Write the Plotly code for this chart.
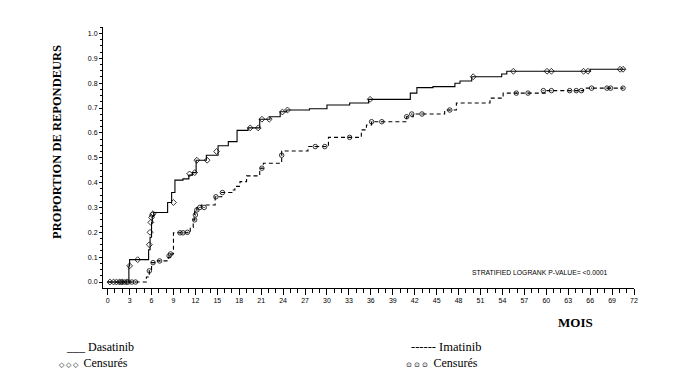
import plotly.graph_objects as go

# Step curves (months, proportion of responders)
dasa_t = [0, 2.9, 3.0, 5.6, 5.8, 6.0, 6.1, 6.3, 8.2, 8.75, 9.2, 10.3, 11.1, 11.6, 12.1, 13.5, 15.1, 16.5,
          17.7, 19.2, 20.8, 22.2, 23.6, 24.5, 27.6, 30.0, 33.1, 35.7, 41.4, 42.3, 44.5, 47.5, 48.2, 49.8,
          53.9, 54.6, 66.0, 70.8]
dasa_p = [0.0, 0.065, 0.09, 0.13, 0.18, 0.24, 0.265, 0.28, 0.32, 0.36, 0.41, 0.415, 0.43, 0.44, 0.49, 0.51,
          0.548, 0.565, 0.61, 0.62, 0.655, 0.665, 0.685, 0.692, 0.697, 0.712, 0.72, 0.735, 0.76, 0.782,
          0.786, 0.80, 0.809, 0.826, 0.837, 0.848, 0.856, 0.856]

ima_t = [0, 5.3, 5.7, 6.0, 6.8, 8.3, 8.7, 9.0, 11.3, 11.7, 11.9, 12.2, 12.8, 14.7, 15.6, 17.0, 17.4, 18.1,
         19.0, 20.8, 21.3, 23.8, 27.4, 30.2, 34.7, 35.4, 36.1, 40.9, 41.8, 46.1, 47.7, 52.3, 54.1, 60.1,
         65.1, 70.5]
ima_p = [0.0, 0.02, 0.048, 0.078, 0.085, 0.10, 0.113, 0.198, 0.22, 0.25, 0.29, 0.30, 0.31, 0.343, 0.36,
         0.37, 0.385, 0.404, 0.427, 0.458, 0.478, 0.527, 0.545, 0.582, 0.612, 0.632, 0.645, 0.665, 0.676,
         0.692, 0.72, 0.74, 0.76, 0.77, 0.78, 0.78]

# Censored observations
dasa_cens_t = [0.3, 0.8, 1.2, 1.6, 2.0, 2.6, 3.0, 4.1, 5.7, 5.8, 5.9, 6.0, 6.1, 6.2, 9.0, 11.2, 11.9, 12.2,
               13.6, 14.9, 19.5, 20.6, 21.1, 22.1, 23.9, 24.6, 35.9, 50.0, 55.5, 60.1, 60.7, 65.1, 65.7,
               70.1, 70.5]
dasa_cens_p = [0.0, 0.0, 0.0, 0.0, 0.0, 0.0, 0.065, 0.09, 0.15, 0.2, 0.24, 0.26, 0.27, 0.275, 0.32, 0.435,
               0.44, 0.49, 0.49, 0.525, 0.62, 0.62, 0.655, 0.655, 0.684, 0.692, 0.735, 0.826, 0.848, 0.848,
               0.848, 0.848, 0.848, 0.856, 0.856]

ima_cens_t = [1.8, 2.3, 2.8, 3.3, 3.8, 5.7, 6.2, 7.1, 8.4, 8.6, 9.9, 10.3, 10.9, 11.9, 12.0, 12.2, 12.6,
              13.2, 14.8, 15.7, 21.1, 23.8, 28.4, 29.7, 33.1, 36.1, 37.5, 40.9, 41.6, 43.0, 46.8, 55.9,
              57.5, 59.6, 60.7, 63.2, 64.1, 64.8, 66.2, 68.3, 68.8, 70.5]
ima_cens_p = [0.0, 0.0, 0.0, 0.0, 0.0, 0.045, 0.078, 0.085, 0.105, 0.113, 0.198, 0.198, 0.2, 0.25, 0.27,
              0.29, 0.30, 0.30, 0.343, 0.36, 0.458, 0.51, 0.545, 0.545, 0.582, 0.645, 0.645, 0.665, 0.676,
              0.676, 0.692, 0.76, 0.76, 0.77, 0.77, 0.77, 0.77, 0.77, 0.78, 0.78, 0.78, 0.78]

x_ticks = list(range(0, 73, 3))
y_ticks = [i / 10 for i in range(11)]
y_tick_labels = [f"{v:.1f}" for v in y_ticks]

fig = go.Figure()
fig.add_trace(go.Scatter(x=dasa_t, y=dasa_p, mode="lines", line_shape="hv",
                         line=dict(color="black", width=1.1), name="Dasatinib"))
fig.add_trace(go.Scatter(x=ima_t, y=ima_p, mode="lines", line_shape="hv",
                         line=dict(color="black", width=1.1, dash="4px,3px"), name="Imatinib"))
fig.add_trace(go.Scatter(x=dasa_cens_t, y=dasa_cens_p, mode="markers",
                         marker=dict(symbol="diamond-open", size=4.5, color="black", line=dict(width=0.8)),
                         name="Censurés"))
fig.add_trace(go.Scatter(x=ima_cens_t, y=ima_cens_p, mode="markers",
                         marker=dict(symbol="circle-open-dot", size=4.5, color="black", line=dict(width=0.8)),
                         name="Censurés"))

tickfont = dict(family="Liberation Sans, Arial, sans-serif", size=7, color="black")
# page offset of 8px (body margin) is compensated in the margins
fig.update_layout(
    width=675, height=378,
    margin=dict(l=95, r=49, t=19, b=98),
    paper_bgcolor="white", plot_bgcolor="white",
    showlegend=False,
    xaxis=dict(range=[-0.64, 72], tickmode="array", tickvals=x_ticks, ticktext=[str(v) for v in x_ticks],
               showgrid=False, zeroline=False, showline=True, linecolor="black", linewidth=1,
               ticks="outside", ticklen=6, tickwidth=1, tickcolor="black", tickfont=tickfont,
               minor=dict(dtick=1, ticks="outside", ticklen=4, tickcolor="black", tickwidth=1)),
    yaxis=dict(range=[-0.024, 1.026], tickmode="array", tickvals=y_ticks, ticktext=y_tick_labels,
               showgrid=False, zeroline=False, showline=True, linecolor="black", linewidth=1,
               ticks="outside", ticklen=3, tickwidth=1, tickcolor="black", tickfont=tickfont,
               minor=dict(dtick=0.025, ticks="outside", ticklen=2, tickcolor="black", tickwidth=1)),
)

serif = "Liberation Serif, Times New Roman, serif"
ann = [
    dict(x=57, y=142, text="<b>PROPORTION DE REPONDEURS</b>", textangle=-90,
         font=dict(family=serif, size=12.5, color="black")),
    dict(x=575, y=322, text="<b>MOIS</b>", font=dict(family=serif, size=13, color="black")),
    dict(x=540, y=272, text="STRATIFIED LOGRANK P-VALUE= <0.0001",
         font=dict(family="Liberation Sans, Arial, sans-serif", size=6.8, color="black")),
    dict(x=64, y=347, xanchor="left", text="___ Dasatinib", font=dict(family=serif, size=12, color="black")),
    dict(x=57, y=363, xanchor="left",
         text="<span style='font-size:7px'>◇&nbsp;◇&nbsp;◇</span>&nbsp;&nbsp;Censurés",
         font=dict(family=serif, size=12, color="black")),
    dict(x=409, y=347, xanchor="left", text="------ Imatinib", font=dict(family=serif, size=12.5, color="black")),
    dict(x=404, y=363, xanchor="left",
         text="<span style='font-size:7px'>⊙&nbsp;⊙&nbsp;⊙</span>&nbsp;&nbsp;Censurés",
         font=dict(family=serif, size=12, color="black")),
]
for a in ann:
    fig.add_annotation(xref="paper", yref="paper", showarrow=False,
                       x=a["x"], y=a["y"], text=a["text"], font=a["font"],
                       textangle=a.get("textangle", 0), xanchor=a.get("xanchor", "center"), yanchor="middle")

# convert page pixel positions of annotations to paper coords
plot_l, plot_r, plot_t, plot_b = 103, 634, 27, 288
for a in fig.layout.annotations:
    px, py = a.x, a.y
    a.x = (px - plot_l) / (plot_r - plot_l)
    a.y = (plot_b - py) / (plot_b - plot_t)

fig.write_html("out.html")
